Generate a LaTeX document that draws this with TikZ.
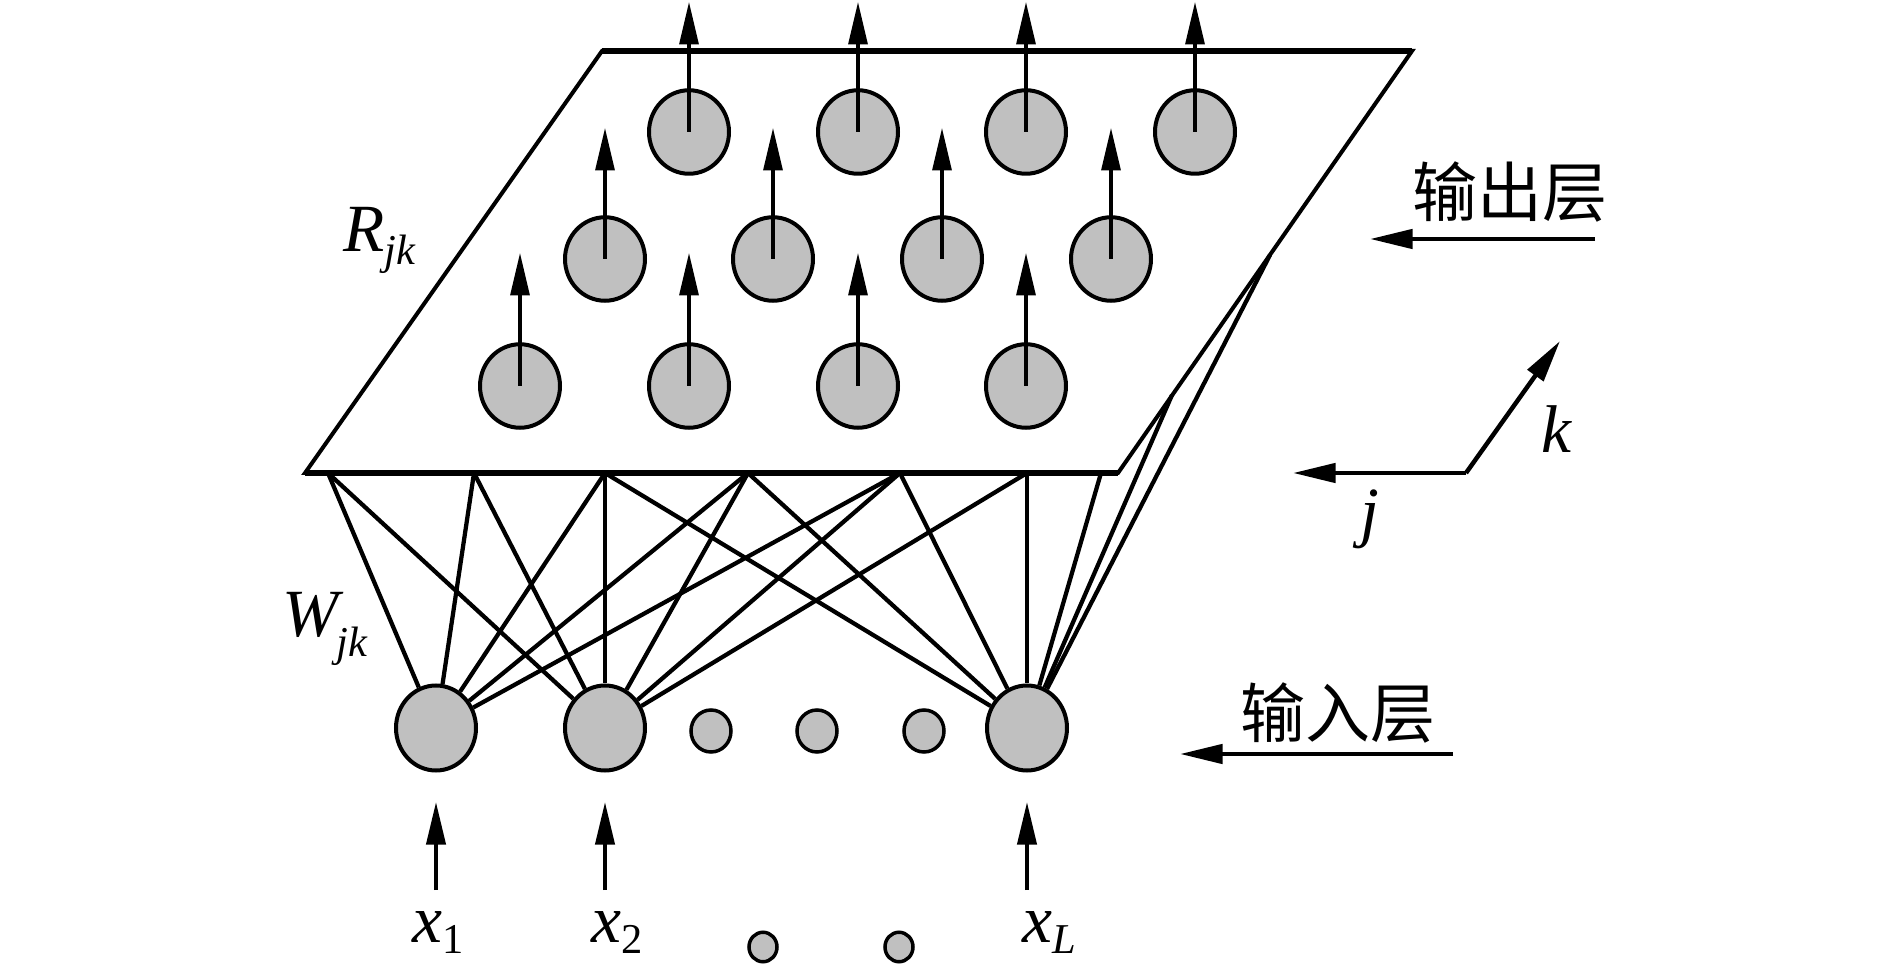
\documentclass[tikz,border=0pt]{standalone}
\usepackage{fontspec}
\setmainfont{Liberation Serif}
\newfontfamily\cjk{Noto Sans CJK SC}
\usetikzlibrary{arrows.meta,shapes.geometric}
\definecolor{nodegray}{RGB}{192,192,192}
\newcommand\lbl[3]{\textit{#2}\raisebox{-#1}{\fontsize{17}{17}\selectfont #3}}
\begin{document}
\begin{tikzpicture}[x=0.4pt,y=-0.4pt,
  neuron/.style={ellipse,draw,line width=1.6pt,fill=nodegray,inner sep=0pt,
    minimum width=32pt,minimum height=33.4pt},
  inneuron/.style={neuron,minimum height=34pt},
  smallneuron/.style={neuron,line width=1.4pt,minimum width=16pt,minimum height=16.8pt},
  tinyneuron/.style={neuron,line width=1.4pt,minimum width=11.2pt,minimum height=11.8pt},
  tip/.style={-{Triangle[length=17pt,width=7.6pt]}},
  outarr/.style={tip,line width=1.3pt},
  inarr/.style={tip,line width=1.6pt},
  labarr/.style={tip,line width=1.8pt},
  conn/.style={line width=1.7pt},
  planeside/.style={line width=1.6pt,line join=miter},
  planeedge/.style={line width=2.3pt},
  mathlab/.style={inner sep=0pt,font=\fontsize{27}{30}\selectfont},
  cjklab/.style={inner sep=0pt,font=\cjk\fontsize{26}{30}\selectfont}]
\useasboundingbox (0,0) rectangle (1889,965);

% plane
\coordinate (TL) at (602,51);
\coordinate (TR) at (1412,51);
\coordinate (BR) at (1118,473);
\coordinate (BL) at (305,473);
\draw[planeside] (BL) -- (TL) -- (TR) -- (BR) -- cycle;
\draw[planeedge] (TL) -- (TR);
\draw[planeedge] (BL) -- (BR);

% attachment points
\coordinate (P1) at (328,473);
\coordinate (P2) at (474,473);
\coordinate (P3) at (605,473);
\coordinate (P4) at (748,473);
\coordinate (P5) at (900,473);
\coordinate (P6) at (1027,473);
\coordinate (P7) at (1101,473);
\coordinate (R1) at (1172,395);
\coordinate (R2) at (1270,255);

% input nodes
\node[inneuron] (x1) at (436,728) {};
\node[inneuron] (x2) at (605,728) {};
\node[inneuron] (xL) at (1027,728) {};
\node[smallneuron] (s1) at (711,731) {};
\node[smallneuron] (s2) at (817,731) {};
\node[smallneuron] (s3) at (924,731) {};
\node[tinyneuron] (d1) at (763,947) {};
\node[tinyneuron] (d2) at (899,947) {};

% connections
\foreach \p in {P1,P2,P3,P4,P5} \draw[conn] (x1) -- (\p);
\foreach \p in {P1,P2,P3,P4,P5,P6} \draw[conn] (x2) -- (\p);
\foreach \p in {P3,P4,P5,P6,P7,R1,R2} \draw[conn] (xL) -- (\p);

% output nodes with arrows
\foreach \n/\x/\y/\ty in {a1/689/132/2,a2/858/132/2,a3/1026/132/2,a4/1195/132/2,
  b1/605/259/128,b2/773/259/128,b3/942/259/128,b4/1111/259/128,
  c1/520/386/253,c2/689/386/253,c3/858/386/253,c4/1026/386/253}{
  \node[neuron] (\n) at (\x,\y) {};
  \coordinate (\n-t) at (\x,\ty);
  \draw[outarr] (\n.center) -- (\n-t);
}

% input arrows
\foreach \n/\x in {x1/436,x2/605,xL/1027}{
  \coordinate (\n-b) at (\x,890);
  \coordinate (\n-h) at (\x,802);
  \draw[inarr] (\n-b) -- (\n-h);
}

% input labels
\node[mathlab,anchor=base west] (lx1) at (412,942) {\lbl{4.4pt}{x}{1}};
\node[mathlab,anchor=base west] (lx2) at (591,942) {\lbl{4.4pt}{x}{2}};
\node[mathlab,anchor=base west] (lxL) at (1022,942) {\lbl{4.4pt}{x}{\textit{L}}};

% weight labels
\node[mathlab,anchor=base west] (Rlab) at (343,252) {\lbl{5.2pt}{R}{\textit{jk}}};
\node[mathlab,anchor=base west] (Wlab) at (282,637) {\lbl{8pt}{W}{\kern-3pt\textit{jk}}};

% layer labels
\node[cjklab] (outlab) at (1510,192) {输出层};
\coordinate (oa1) at (1595,239);
\coordinate (oa2) at (1370,239);
\draw[labarr] (oa1) -- (oa2);
\node[cjklab] (inlab) at (1338,713) {输入层};
\coordinate (ia1) at (1453,754);
\coordinate (ia2) at (1180,754);
\draw[labarr] (ia1) -- (ia2);

% axes
\coordinate (ax0) at (1466,473);
\coordinate (axj) at (1293,473);
\coordinate (axk) at (1560,341);
\draw[labarr] (ax0) -- (axj);
\draw[labarr] (ax0) -- (axk);
\node[mathlab,anchor=base] (klab) at (1557,453) {\textit{k}};
\node[mathlab,anchor=base] (jlab) at (1370,535) {\textit{j}};
\end{tikzpicture}
\end{document}
